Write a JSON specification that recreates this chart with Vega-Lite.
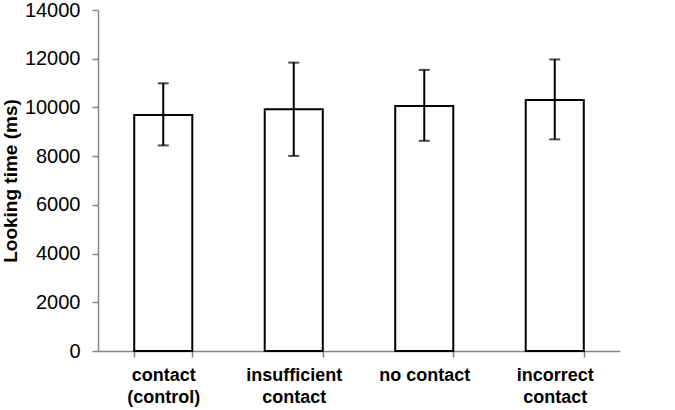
{
  "$schema": "https://vega.github.io/schema/vega-lite/v6.json",
  "autosize": "none",
  "padding": {"left": 98, "top": 10, "right": 55, "bottom": 59},
  "width": 522,
  "height": 341,
  "background": "white",
  "config": {
    "view": {"stroke": null},
    "font": "Liberation Sans",
    "axis": {"labelFont": "Liberation Sans", "titleFont": "Liberation Sans", "labelColor": "#000", "titleColor": "#000", "domainColor": "#868686", "tickColor": "#868686", "domainWidth": 1.5, "tickWidth": 1.5, "grid": false}
  },
  "data": {"values": [
    {"condition": "contact (control)", "time": 9690, "lo": 8440, "hi": 10990},
    {"condition": "insufficient contact", "time": 9930, "lo": 8010, "hi": 11840},
    {"condition": "no contact", "time": 10060, "lo": 8630, "hi": 11540},
    {"condition": "incorrect contact", "time": 10300, "lo": 8690, "hi": 11970}
  ]},
  "encoding": {
    "x": {"field": "condition", "type": "nominal", "sort": null,
      "scale": {"paddingInner": 0.555, "paddingOuter": 0.2775},
      "axis": {"title": null, "labelAngle": 0, "labelFontSize": 18, "labelFontWeight": "bold", "labelLineHeight": 22, "labelPadding": 9, "tickBand": "extent", "tickSize": 6,
        "labelExpr": "datum.label == 'no contact' ? datum.label : split(datum.label, ' ')"}}
  },
  "layer": [
    {
      "mark": {"type": "bar", "fill": "white", "stroke": "black", "strokeWidth": 2},
      "encoding": {
        "y": {"field": "time", "type": "quantitative", "scale": {"domain": [0, 14000]},
          "axis": {"title": "Looking time (ms)", "values": [0, 2000, 4000, 6000, 8000, 10000, 12000, 14000], "labelFontSize": 20, "titleFontSize": 19, "titleFontWeight": "bold", "tickSize": 6, "labelPadding": 12, "titlePadding": 4, "format": "d"}}
      }
    },
    {
      "mark": {"type": "rule", "color": "black", "strokeWidth": 2},
      "encoding": {"y": {"field": "lo", "type": "quantitative"}, "y2": {"field": "hi"}}
    },
    {
      "mark": {"type": "tick", "color": "black", "thickness": 2, "size": 11, "orient": "horizontal"},
      "encoding": {"y": {"field": "lo", "type": "quantitative"}}
    },
    {
      "mark": {"type": "tick", "color": "black", "thickness": 2, "size": 11, "orient": "horizontal"},
      "encoding": {"y": {"field": "hi", "type": "quantitative"}}
    }
  ]
}
